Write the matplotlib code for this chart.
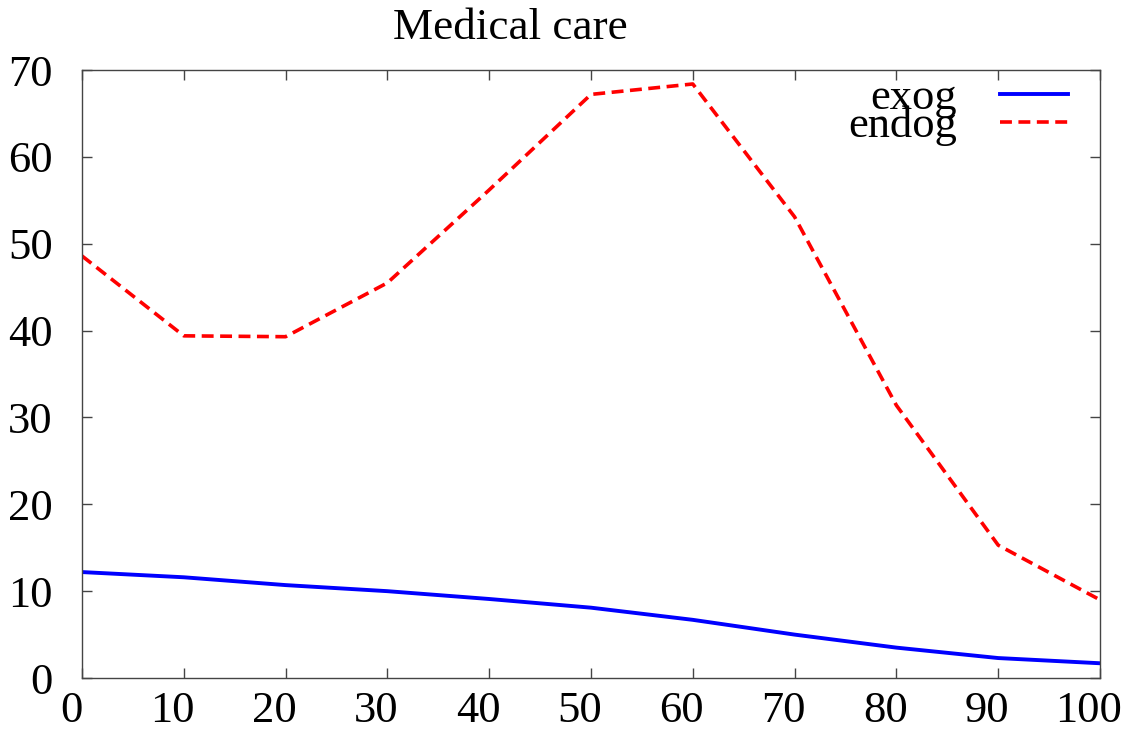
import matplotlib
matplotlib.use('Agg')
import matplotlib.pyplot as plt
import matplotlib.transforms as mtransforms

matplotlib.rcParams.update({
    'font.family': 'Liberation Serif',
    'font.size': 32,
    'axes.linewidth': 1.0,
    'axes.edgecolor': '#444444',
})

share = [0, 10, 20, 30, 40, 50, 60, 70, 80, 90, 100]
exog = [12.2, 11.6, 10.7, 10.0, 9.1, 8.1, 6.7, 5.0, 3.5, 2.3, 1.7]
endog = [48.6, 39.4, 39.3, 45.5, 56.2, 67.2, 68.4, 53.1, 31.4, 15.3, 9.0]

fig = plt.figure(figsize=(11.23, 7.30), dpi=100)
ax = fig.add_axes([0.073, 0.0712, 0.9065, 0.8328])

ax.plot(share, exog, color='#0000ff', lw=2.8, label='exog')
ax.plot(share, endog, color='#ff0000', lw=2.6, dashes=(3.3, 1.8), label='endog')

ax.set_xlim(0, 100)
ax.set_ylim(0, 70)
ax.set_xticks(range(0, 101, 10))
ax.set_yticks(range(0, 71, 10))
ax.tick_params(direction='in', length=7, width=1.0, top=True, right=True,
               color='#444444')
ax.tick_params(axis='y', pad=21)
ax.tick_params(axis='x', pad=9)

# gnuplot puts the x labels a bit left of their ticks
shift = mtransforms.ScaledTranslation(-11 / 100, 0, fig.dpi_scale_trans)
for lab in ax.get_xticklabels():
    lab.set_transform(lab.get_transform() + shift)

# title sits left of the axes centre, as in gnuplot output
fig.text(510 / 1123, 1 - 28 / 730, 'Medical care', ha='center', va='center',
         fontsize=32.5)

ax.legend(loc='upper right', bbox_to_anchor=(0.9686, 0.987), frameon=False,
          markerfirst=False, handlelength=1.53, labelspacing=-0.275,
          borderaxespad=0, borderpad=0, handletextpad=0.97, fontsize=32)

fig.savefig('out.png', dpi=100, facecolor='white')
